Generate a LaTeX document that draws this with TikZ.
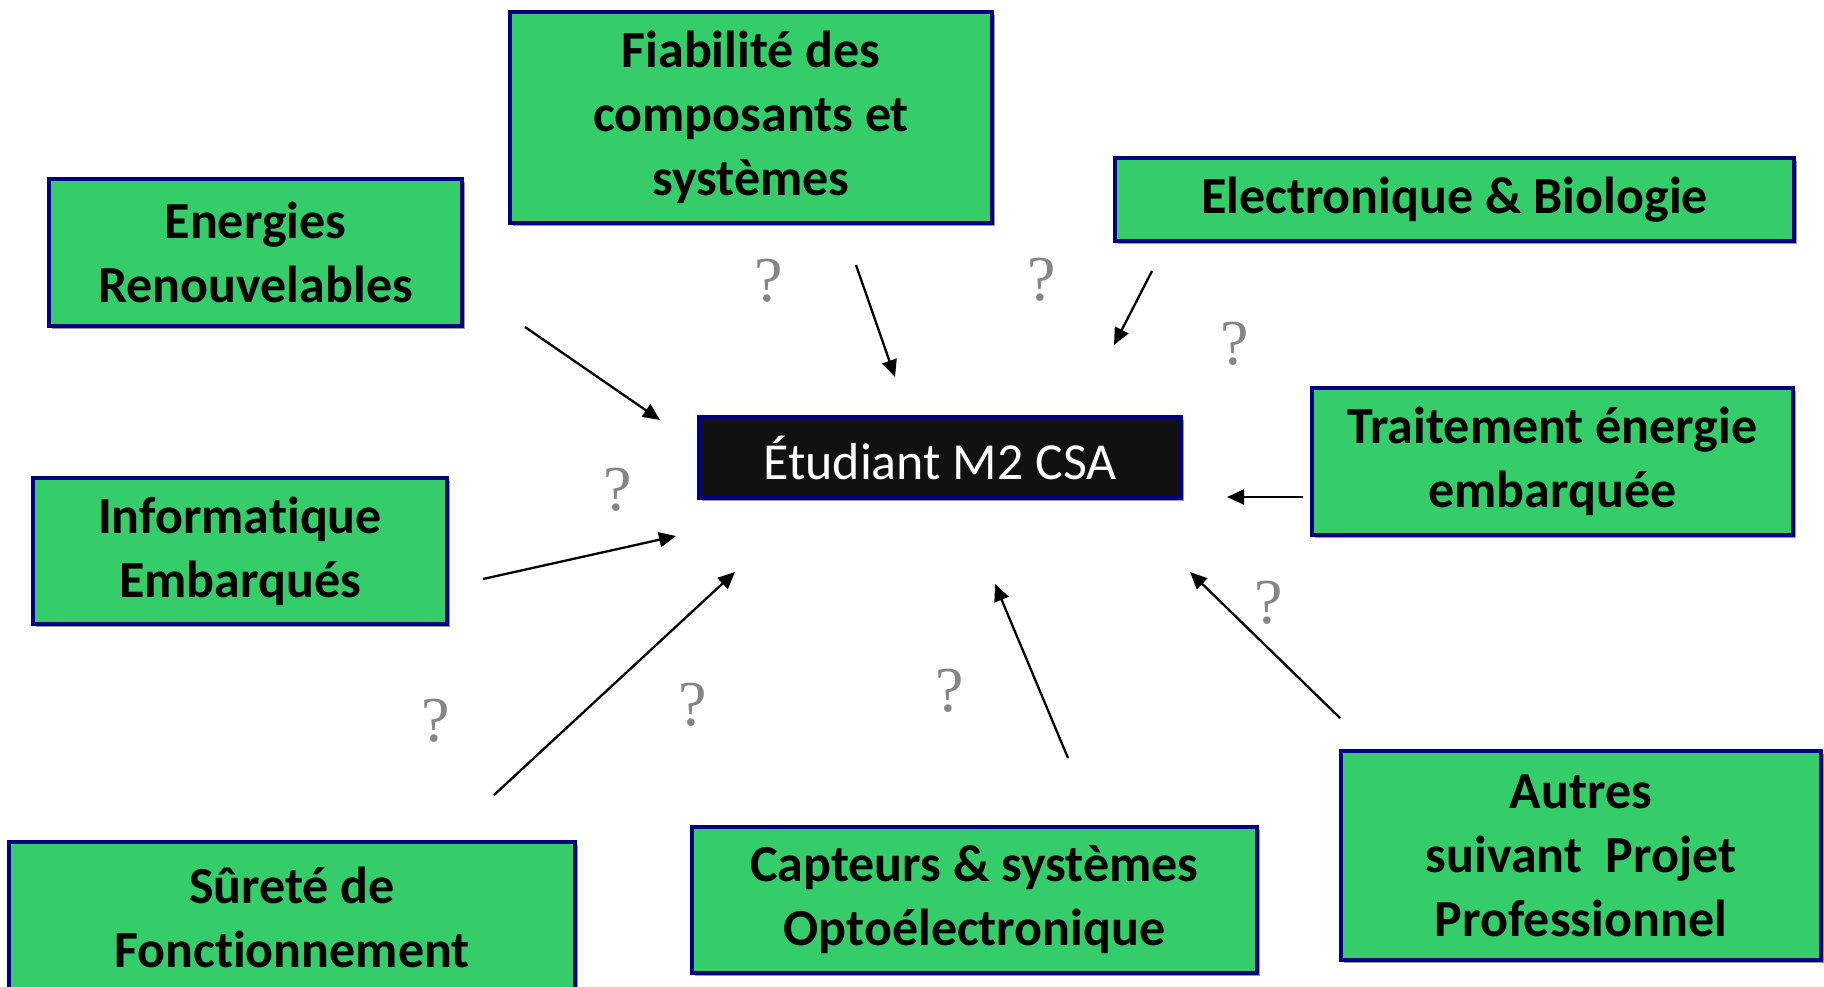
\documentclass[tikz,border=0pt]{standalone}
\usepackage{fontspec}
\setmainfont{Carlito}[Ligatures={NoCommon,NoRequired,NoContextual,NoRare}]
\newfontfamily\qmfont{Liberation Serif}
\usetikzlibrary{shadows,arrows.meta}
\definecolor{boxgreen}{HTML}{35CC6A}
\definecolor{boxnavy}{HTML}{000080}
\definecolor{boxblack}{HTML}{111111}
\definecolor{qgray}{HTML}{858585}
\newcommand{\nl}{t\kern0pt i}
\tikzset{
  greenbox/.style={draw=boxnavy, line width=4pt, fill=boxgreen, align=center,
    inner sep=0pt, font=\fontsize{52}{64}\selectfont\bfseries,
    drop shadow={shadow xshift=3pt, shadow yshift=-3pt, fill=gray!80, opacity=1}},
  blackbox/.style={draw=boxnavy, line width=4pt, fill=boxblack, text=white, align=center,
    inner sep=0pt, font=\fontsize{52}{64}\selectfont,
    drop shadow={shadow xshift=3pt, shadow yshift=-3pt, fill=gray!80, opacity=1}},
  qmark/.style={text=qgray, inner sep=0pt, font=\qmfont\fontsize{64}{70}\selectfont},
  feed/.style={line width=2.3pt, -{Triangle[length=17pt,width=15pt]}}
}
\begin{document}
\begin{tikzpicture}[x=1pt,y=-1pt]
\useasboundingbox (0,0) rectangle (1824,986);
% boxes
\node[greenbox, minimum width=482pt, minimum height=211pt] (fiab) at (751,117.5) {Fiabilité des\\composants et\\systèmes};
\node[greenbox, minimum width=413pt, minimum height=147pt] (ener) at (255.5,252.5) {Energies\\Renouvelables};
\node[greenbox, minimum width=679pt, minimum height=83pt] (elec) at (1454.5,199.5) {Electronique \& Biologie};
\node[blackbox, minimum width=482pt, minimum height=81pt] (etud) at (940,457.5) {Étudiant M2 CSA};
\node[greenbox, minimum width=481pt, minimum height=147pt] (trait) at (1552.5,461.5) {Traitement énergie\\embarquée};
\node[greenbox, minimum width=414pt, minimum height=146pt] (info) at (240,551) {Informa\nl que\\Embarqués};
\node[greenbox, minimum width=566pt, minimum height=150pt] (sur) at (292,917) {Sûreté de\\Fonc\nl onnement};
\node[greenbox, minimum width=565pt, minimum height=146pt] (capt) at (974.5,900) {Capteurs \& systèmes\\Optoélectronique};
\node[greenbox, minimum width=480pt, minimum height=209pt] (autr) at (1581,855.5) {Autres\\suivant~ Projet\\Professionnel};
% question marks
\node[qmark] (q1) at (769,281) {?};
\node[qmark] (q2) at (1042,280) {?};
\node[qmark] (q3) at (1235,344) {?};
\node[qmark] (q4) at (618,490) {?};
\node[qmark] (q5) at (1269,603) {?};
\node[qmark] (q6) at (950,691) {?};
\node[qmark] (q7) at (693,705) {?};
\node[qmark] (q8) at (436,721) {?};
% arrow endpoints
\coordinate (a1s) at (525,327); \coordinate (a1e) at (660,420);
\coordinate (a2s) at (856,265); \coordinate (a2e) at (895,377);
\coordinate (a3s) at (1152,271); \coordinate (a3e) at (1114,345);
\coordinate (a4s) at (1303,497); \coordinate (a4e) at (1227,497);
\coordinate (a5s) at (1340,718); \coordinate (a5e) at (1190,572);
\coordinate (a6s) at (1068,758); \coordinate (a6e) at (995,584);
\coordinate (a7s) at (494,795); \coordinate (a7e) at (735,572);
\coordinate (a8s) at (483,579); \coordinate (a8e) at (676,536);
\draw[feed] (a1s) -- (a1e);
\draw[feed] (a2s) -- (a2e);
\draw[feed] (a3s) -- (a3e);
\draw[feed] (a4s) -- (a4e);
\draw[feed] (a5s) -- (a5e);
\draw[feed] (a6s) -- (a6e);
\draw[feed] (a7s) -- (a7e);
\draw[feed] (a8s) -- (a8e);
\end{tikzpicture}
\end{document}
